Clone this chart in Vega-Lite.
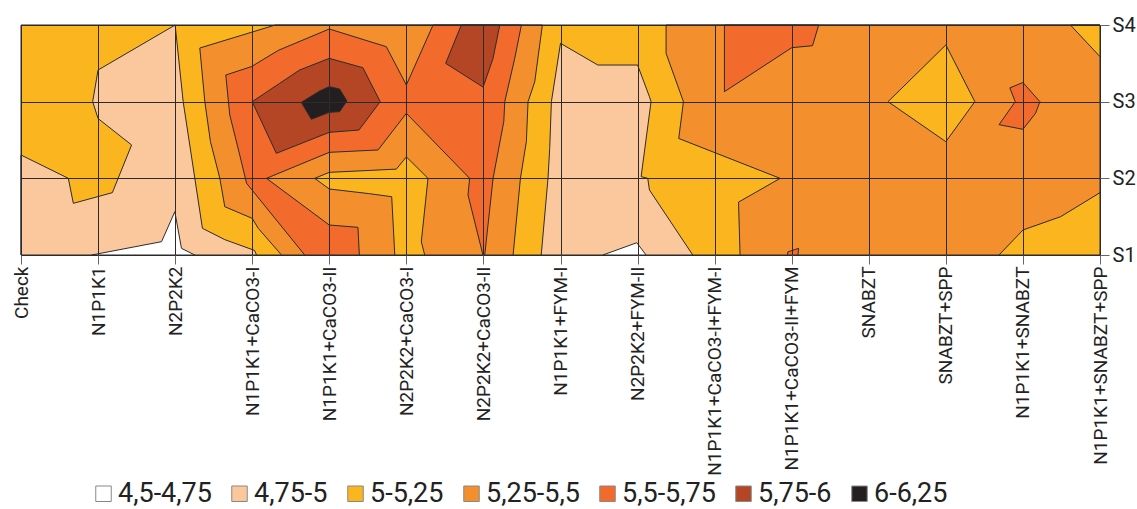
{
"$schema": "https://vega.github.io/schema/vega-lite/v6.json",
"width": 1079, "height": 230,
"autosize": "none",
"padding": {"left": 21, "top": 25, "right": 37, "bottom": 254},
"background": "white",
"config": {"view": {"stroke": "#2b2b2b", "strokeWidth": 1}, "font": "Roboto"},
"data": {"values": [
{"poly":"Ybg","layer":1,"band":"5-5,25","i":0,"x":0,"y":1},
{"poly":"Ybg","layer":1,"band":"5-5,25","i":1,"x":14,"y":1},
{"poly":"Ybg","layer":1,"band":"5-5,25","i":2,"x":14,"y":4},
{"poly":"Ybg","layer":1,"band":"5-5,25","i":3,"x":0,"y":4},

{"poly":"P1","layer":2,"band":"4,75-5","i":0,"x":0,"y":1},
{"poly":"P1","layer":2,"band":"4,75-5","i":1,"x":0,"y":2.304},
{"poly":"P1","layer":2,"band":"4,75-5","i":2,"x":0.614,"y":2.0},
{"poly":"P1","layer":2,"band":"4,75-5","i":3,"x":0.679,"y":1.674},
{"poly":"P1","layer":2,"band":"4,75-5","i":4,"x":1.185,"y":1.813},
{"poly":"P1","layer":2,"band":"4,75-5","i":5,"x":1.435,"y":2.435},
{"poly":"P1","layer":2,"band":"4,75-5","i":6,"x":1.0,"y":2.78},
{"poly":"P1","layer":2,"band":"4,75-5","i":7,"x":0.93,"y":3.0},
{"poly":"P1","layer":2,"band":"4,75-5","i":8,"x":1.0,"y":3.413},
{"poly":"P1","layer":2,"band":"4,75-5","i":9,"x":2.0,"y":4.0},
{"poly":"P1","layer":2,"band":"4,75-5","i":10,"x":2.104,"y":3.0},
{"poly":"P1","layer":2,"band":"4,75-5","i":11,"x":2.354,"y":1.348},
{"poly":"P1","layer":2,"band":"4,75-5","i":12,"x":2.645,"y":1.2},
{"poly":"P1","layer":2,"band":"4,75-5","i":13,"x":3.03,"y":1.06},
{"poly":"P1","layer":2,"band":"4,75-5","i":14,"x":3.056,"y":1.0},

{"poly":"P2","layer":2,"band":"4,75-5","i":0,"x":6.75,"y":1.0},
{"poly":"P2","layer":2,"band":"4,75-5","i":1,"x":6.838,"y":2.0},
{"poly":"P2","layer":2,"band":"4,75-5","i":2,"x":6.86,"y":2.39},
{"poly":"P2","layer":2,"band":"4,75-5","i":3,"x":6.882,"y":3.0},
{"poly":"P2","layer":2,"band":"4,75-5","i":4,"x":7.0,"y":3.761},
{"poly":"P2","layer":2,"band":"4,75-5","i":5,"x":7.484,"y":3.478},
{"poly":"P2","layer":2,"band":"4,75-5","i":6,"x":8.0,"y":3.478},
{"poly":"P2","layer":2,"band":"4,75-5","i":7,"x":8.154,"y":3.065},
{"poly":"P2","layer":2,"band":"4,75-5","i":8,"x":8.175,"y":3.0},
{"poly":"P2","layer":2,"band":"4,75-5","i":9,"x":8.046,"y":2.022},
{"poly":"P2","layer":2,"band":"4,75-5","i":10,"x":8.132,"y":2.0},
{"poly":"P2","layer":2,"band":"4,75-5","i":11,"x":8.154,"y":1.848},
{"poly":"P2","layer":2,"band":"4,75-5","i":12,"x":8.716,"y":1.0},

{"poly":"W1","layer":3,"band":"4,5-4,75","i":0,"x":0.917,"y":1.0},
{"poly":"W1","layer":3,"band":"4,5-4,75","i":1,"x":1.824,"y":1.174},
{"poly":"W1","layer":3,"band":"4,5-4,75","i":2,"x":1.996,"y":1.565},
{"poly":"W1","layer":3,"band":"4,5-4,75","i":3,"x":2.082,"y":1.087},
{"poly":"W1","layer":3,"band":"4,5-4,75","i":4,"x":2.255,"y":1.0},

{"poly":"W2","layer":3,"band":"4,5-4,75","i":0,"x":7.55,"y":1.0},
{"poly":"W2","layer":3,"band":"4,5-4,75","i":1,"x":7.99,"y":1.16},
{"poly":"W2","layer":3,"band":"4,5-4,75","i":2,"x":8.11,"y":1.0},

{"poly":"OL","layer":4,"band":"5,25-5,5","i":0,"x":3.38,"y":1.0},
{"poly":"OL","layer":4,"band":"5,25-5,5","i":1,"x":3.078,"y":1.348},
{"poly":"OL","layer":4,"band":"5,25-5,5","i":2,"x":3.0,"y":1.478},
{"poly":"OL","layer":4,"band":"5,25-5,5","i":3,"x":2.644,"y":1.63},
{"poly":"OL","layer":4,"band":"5,25-5,5","i":4,"x":2.58,"y":2.0},
{"poly":"OL","layer":4,"band":"5,25-5,5","i":5,"x":2.458,"y":2.478},
{"poly":"OL","layer":4,"band":"5,25-5,5","i":6,"x":2.385,"y":3.0},
{"poly":"OL","layer":4,"band":"5,25-5,5","i":7,"x":2.32,"y":3.7},
{"poly":"OL","layer":4,"band":"5,25-5,5","i":8,"x":3.3,"y":4.0},
{"poly":"OL","layer":4,"band":"5,25-5,5","i":9,"x":6.765,"y":4.0},
{"poly":"OL","layer":4,"band":"5,25-5,5","i":10,"x":6.666,"y":3.26},
{"poly":"OL","layer":4,"band":"5,25-5,5","i":11,"x":6.579,"y":3.0},
{"poly":"OL","layer":4,"band":"5,25-5,5","i":12,"x":6.557,"y":2.478},
{"poly":"OL","layer":4,"band":"5,25-5,5","i":13,"x":6.48,"y":2.0},
{"poly":"OL","layer":4,"band":"5,25-5,5","i":14,"x":6.385,"y":1.0},

{"poly":"OR","layer":4,"band":"5,25-5,5","i":0,"x":8.37,"y":4.0},
{"poly":"OR","layer":4,"band":"5,25-5,5","i":1,"x":14,"y":4.0},
{"poly":"OR","layer":4,"band":"5,25-5,5","i":2,"x":14,"y":1.0},
{"poly":"OR","layer":4,"band":"5,25-5,5","i":3,"x":9.33,"y":1.0},
{"poly":"OR","layer":4,"band":"5,25-5,5","i":4,"x":9.31,"y":1.69},
{"poly":"OR","layer":4,"band":"5,25-5,5","i":5,"x":9.85,"y":2.0},
{"poly":"OR","layer":4,"band":"5,25-5,5","i":6,"x":8.534,"y":2.52},
{"poly":"OR","layer":4,"band":"5,25-5,5","i":7,"x":8.595,"y":3.0},
{"poly":"OR","layer":4,"band":"5,25-5,5","i":8,"x":8.37,"y":3.63},

{"poly":"Y1","layer":5,"band":"5-5,25","i":0,"x":3.81,"y":2.0},
{"poly":"Y1","layer":5,"band":"5-5,25","i":1,"x":4.0,"y":2.078},
{"poly":"Y1","layer":5,"band":"5-5,25","i":2,"x":4.87,"y":2.12},
{"poly":"Y1","layer":5,"band":"5-5,25","i":3,"x":5.0,"y":2.28},
{"poly":"Y1","layer":5,"band":"5-5,25","i":4,"x":5.281,"y":2.0},
{"poly":"Y1","layer":5,"band":"5-5,25","i":5,"x":5.194,"y":1.174},
{"poly":"Y1","layer":5,"band":"5-5,25","i":6,"x":5.238,"y":1.0},
{"poly":"Y1","layer":5,"band":"5-5,25","i":7,"x":4.85,"y":1.0},
{"poly":"Y1","layer":5,"band":"5-5,25","i":8,"x":4.81,"y":1.76},
{"poly":"Y1","layer":5,"band":"5-5,25","i":9,"x":4.52,"y":1.8},
{"poly":"Y1","layer":5,"band":"5-5,25","i":10,"x":4.0,"y":1.861},

{"poly":"Y2","layer":5,"band":"5-5,25","i":0,"x":11.25,"y":3.0},
{"poly":"Y2","layer":5,"band":"5-5,25","i":1,"x":12.0,"y":3.74},
{"poly":"Y2","layer":5,"band":"5-5,25","i":2,"x":12.376,"y":3.0},
{"poly":"Y2","layer":5,"band":"5-5,25","i":3,"x":12.0,"y":2.478},

{"poly":"Y3","layer":5,"band":"5-5,25","i":0,"x":13.616,"y":4.0},
{"poly":"Y3","layer":5,"band":"5-5,25","i":1,"x":14,"y":4.0},
{"poly":"Y3","layer":5,"band":"5-5,25","i":2,"x":14,"y":3.587},

{"poly":"Y4","layer":5,"band":"5-5,25","i":0,"x":12.69,"y":1.0},
{"poly":"Y4","layer":5,"band":"5-5,25","i":1,"x":13.0,"y":1.326},
{"poly":"Y4","layer":5,"band":"5-5,25","i":2,"x":13.49,"y":1.5},
{"poly":"Y4","layer":5,"band":"5-5,25","i":3,"x":14,"y":1.813},
{"poly":"Y4","layer":5,"band":"5-5,25","i":4,"x":14,"y":1.0},

{"poly":"RL","layer":6,"band":"5,5-5,75","i":0,"x":3.681,"y":1.0},
{"poly":"RL","layer":6,"band":"5,5-5,75","i":1,"x":2.927,"y":1.935},
{"poly":"RL","layer":6,"band":"5,5-5,75","i":2,"x":2.838,"y":2.304},
{"poly":"RL","layer":6,"band":"5,5-5,75","i":3,"x":2.709,"y":2.826},
{"poly":"RL","layer":6,"band":"5,5-5,75","i":4,"x":2.657,"y":3.348},
{"poly":"RL","layer":6,"band":"5,5-5,75","i":5,"x":2.99,"y":3.457},
{"poly":"RL","layer":6,"band":"5,5-5,75","i":6,"x":3.34,"y":3.67},
{"poly":"RL","layer":6,"band":"5,5-5,75","i":7,"x":4.0,"y":3.948},
{"poly":"RL","layer":6,"band":"5,5-5,75","i":8,"x":4.74,"y":3.717},
{"poly":"RL","layer":6,"band":"5,5-5,75","i":9,"x":5.0,"y":3.217},
{"poly":"RL","layer":6,"band":"5,5-5,75","i":10,"x":5.346,"y":4.0},
{"poly":"RL","layer":6,"band":"5,5-5,75","i":11,"x":6.493,"y":4.0},
{"poly":"RL","layer":6,"band":"5,5-5,75","i":12,"x":6.406,"y":3.565},
{"poly":"RL","layer":6,"band":"5,5-5,75","i":13,"x":6.277,"y":3.0},
{"poly":"RL","layer":6,"band":"5,5-5,75","i":14,"x":6.264,"y":2.74},
{"poly":"RL","layer":6,"band":"5,5-5,75","i":15,"x":6.125,"y":2.0},
{"poly":"RL","layer":6,"band":"5,5-5,75","i":16,"x":6.017,"y":1.0},
{"poly":"RL","layer":6,"band":"5,5-5,75","i":17,"x":5.994,"y":1.0},
{"poly":"RL","layer":6,"band":"5,5-5,75","i":18,"x":5.8,"y":1.783},
{"poly":"RL","layer":6,"band":"5,5-5,75","i":19,"x":5.821,"y":2.0},
{"poly":"RL","layer":6,"band":"5,5-5,75","i":20,"x":5.0,"y":2.848},
{"poly":"RL","layer":6,"band":"5,5-5,75","i":21,"x":4.633,"y":2.37},
{"poly":"RL","layer":6,"band":"5,5-5,75","i":22,"x":4.0,"y":2.339},
{"poly":"RL","layer":6,"band":"5,5-5,75","i":23,"x":3.185,"y":2.0},
{"poly":"RL","layer":6,"band":"5,5-5,75","i":24,"x":4.0,"y":1.391},
{"poly":"RL","layer":6,"band":"5,5-5,75","i":25,"x":4.372,"y":1.361},
{"poly":"RL","layer":6,"band":"5,5-5,75","i":26,"x":4.39,"y":1.0},

{"poly":"RT","layer":6,"band":"5,5-5,75","i":0,"x":9.127,"y":4.0},
{"poly":"RT","layer":6,"band":"5,5-5,75","i":1,"x":9.127,"y":3.13},
{"poly":"RT","layer":6,"band":"5,5-5,75","i":2,"x":10.0,"y":3.704},
{"poly":"RT","layer":6,"band":"5,5-5,75","i":3,"x":10.27,"y":3.73},
{"poly":"RT","layer":6,"band":"5,5-5,75","i":4,"x":10.35,"y":4.0},

{"poly":"RS","layer":6,"band":"5,5-5,75","i":0,"x":12.83,"y":3.18},
{"poly":"RS","layer":6,"band":"5,5-5,75","i":1,"x":13.0,"y":3.25},
{"poly":"RS","layer":6,"band":"5,5-5,75","i":2,"x":13.22,"y":3.0},
{"poly":"RS","layer":6,"band":"5,5-5,75","i":3,"x":13.165,"y":2.85},
{"poly":"RS","layer":6,"band":"5,5-5,75","i":4,"x":13.0,"y":2.64},
{"poly":"RS","layer":6,"band":"5,5-5,75","i":5,"x":12.69,"y":2.7},
{"poly":"RS","layer":6,"band":"5,5-5,75","i":6,"x":12.9,"y":3.0},

{"poly":"RB","layer":6,"band":"5,5-5,75","i":0,"x":9.948,"y":1.0},
{"poly":"RB","layer":6,"band":"5,5-5,75","i":1,"x":9.948,"y":1.04},
{"poly":"RB","layer":6,"band":"5,5-5,75","i":2,"x":10.09,"y":1.087},
{"poly":"RB","layer":6,"band":"5,5-5,75","i":3,"x":10.08,"y":1.0},

{"poly":"B1","layer":7,"band":"5,75-6","i":0,"x":3.0,"y":3.0},
{"poly":"B1","layer":7,"band":"5,75-6","i":1,"x":3.357,"y":3.24},
{"poly":"B1","layer":7,"band":"5,75-6","i":2,"x":3.615,"y":3.413},
{"poly":"B1","layer":7,"band":"5,75-6","i":3,"x":4.0,"y":3.565},
{"poly":"B1","layer":7,"band":"5,75-6","i":4,"x":4.436,"y":3.443},
{"poly":"B1","layer":7,"band":"5,75-6","i":5,"x":4.661,"y":3.0},
{"poly":"B1","layer":7,"band":"5,75-6","i":6,"x":4.385,"y":2.63},
{"poly":"B1","layer":7,"band":"5,75-6","i":7,"x":4.0,"y":2.6},
{"poly":"B1","layer":7,"band":"5,75-6","i":8,"x":3.313,"y":2.326},

{"poly":"B2","layer":7,"band":"5,75-6","i":0,"x":5.713,"y":4.0},
{"poly":"B2","layer":7,"band":"5,75-6","i":1,"x":6.212,"y":4.0},
{"poly":"B2","layer":7,"band":"5,75-6","i":2,"x":6.125,"y":3.565},
{"poly":"B2","layer":7,"band":"5,75-6","i":3,"x":5.996,"y":3.19},
{"poly":"B2","layer":7,"band":"5,75-6","i":4,"x":5.51,"y":3.5},

{"poly":"K1","layer":8,"band":"6-6,25","i":0,"x":3.637,"y":2.991},
{"poly":"K1","layer":8,"band":"6-6,25","i":1,"x":3.875,"y":3.139},
{"poly":"K1","layer":8,"band":"6-6,25","i":2,"x":4.0,"y":3.196},
{"poly":"K1","layer":8,"band":"6-6,25","i":3,"x":4.134,"y":3.165},
{"poly":"K1","layer":8,"band":"6-6,25","i":4,"x":4.229,"y":3.009},
{"poly":"K1","layer":8,"band":"6-6,25","i":5,"x":4.134,"y":2.87},
{"poly":"K1","layer":8,"band":"6-6,25","i":6,"x":4.0,"y":2.861},
{"poly":"K1","layer":8,"band":"6-6,25","i":7,"x":3.767,"y":2.77}
]},
"encoding": {
  "x": {"field": "x", "type": "quantitative",
    "scale": {"domain": [0, 14], "nice": false, "zero": false},
    "axis": {"values": [0,1,2,3,4,5,6,7,8,9,10,11,12,13,14],
      "labelExpr": "['Check','N1P1K1','N2P2K2','N1P1K1+CaCO3-I','N1P1K1+CaCO3-II','N2P2K2+CaCO3-I','N2P2K2+CaCO3-II','N1P1K1+FYM-I','N2P2K2+FYM-II','N1P1K1+CaCO3-I+FYM-I','N1P1K1+CaCO3-II+FYM','SNABZT','SNABZT+SPP','N1P1K1+SNABZT','N1P1K1+SNABZT+SPP'][datum.value]",
      "labelAngle": -90, "labelFlush": false, "labelOverlap": false, "labelLimit": 0, "title": null,
      "grid": true, "gridColor": "#2b2b2b", "gridOpacity": 1, "gridWidth": 1,
      "domain": false, "tickColor": "#666", "tickSize": 9, "tickWidth": 1,
      "labelFont": "Roboto", "labelFontSize": 19, "labelColor": "#222", "labelPadding": 2, "zindex": 1}},
  "y": {"field": "y", "type": "quantitative",
    "scale": {"domain": [1, 4], "nice": false, "zero": false},
    "axis": {"orient": "right", "values": [1,2,3,4], "labelExpr": "'S' + datum.value",
      "labelFlush": false, "title": null,
      "grid": true, "gridColor": "#2b2b2b", "gridOpacity": 1, "gridWidth": 1,
      "domain": false, "tickColor": "#666", "tickSize": 9, "tickWidth": 1,
      "labelFont": "Roboto", "labelFontSize": 20, "labelColor": "#222", "labelPadding": 3, "zindex": 1}},
  "order": {"field": "i", "type": "quantitative"},
  "detail": {"field": "poly", "type": "nominal"},
  "fill": {"field": "band", "type": "nominal",
    "scale": {"domain": ["4,5-4,75","4,75-5","5-5,25","5,25-5,5","5,5-5,75","5,75-6","6-6,25"],
              "range": ["#ffffff","#fbc89d","#fbb61f","#f48f2e","#f26b2c","#b44525","#231f20"]},
    "legend": {"orient": "none", "legendX": 69, "legendY": 455, "direction": "horizontal", "title": null,
      "symbolType": "square", "symbolSize": 240, "symbolStrokeColor": "#888", "symbolStrokeWidth": 1,
      "labelFont": "Roboto", "labelFontSize": 27, "labelColor": "#222", "labelOffset": 1, "labelLimit": 0, "columnPadding": 14, "padding": 0}}
},
"layer": [
  {"transform": [{"filter": "datum.layer == 1"}], "mark": {"type": "line", "interpolate": "linear-closed", "stroke": "#2b2b2b", "strokeWidth": 1}},
  {"transform": [{"filter": "datum.layer == 2"}], "mark": {"type": "line", "interpolate": "linear-closed", "stroke": "#2b2b2b", "strokeWidth": 1}},
  {"transform": [{"filter": "datum.layer == 3"}], "mark": {"type": "line", "interpolate": "linear-closed", "stroke": "#2b2b2b", "strokeWidth": 1}},
  {"transform": [{"filter": "datum.layer == 4"}], "mark": {"type": "line", "interpolate": "linear-closed", "stroke": "#2b2b2b", "strokeWidth": 1}},
  {"transform": [{"filter": "datum.layer == 5"}], "mark": {"type": "line", "interpolate": "linear-closed", "stroke": "#2b2b2b", "strokeWidth": 1}},
  {"transform": [{"filter": "datum.layer == 6"}], "mark": {"type": "line", "interpolate": "linear-closed", "stroke": "#2b2b2b", "strokeWidth": 1}},
  {"transform": [{"filter": "datum.layer == 7"}], "mark": {"type": "line", "interpolate": "linear-closed", "stroke": "#2b2b2b", "strokeWidth": 1}},
  {"transform": [{"filter": "datum.layer == 8"}], "mark": {"type": "line", "interpolate": "linear-closed", "stroke": "#2b2b2b", "strokeWidth": 1}}
]
}
